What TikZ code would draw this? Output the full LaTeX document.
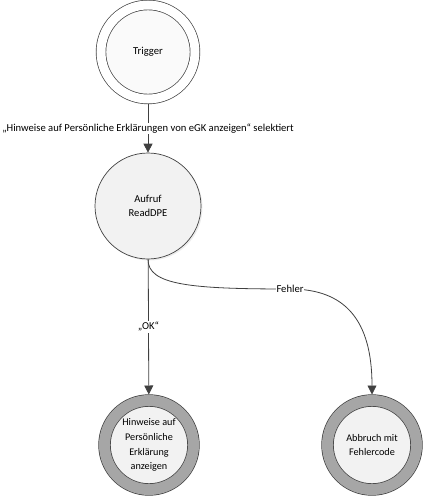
\documentclass[tikz,border=0pt]{standalone}
\usepackage{fontspec}
\setmainfont{Carlito}
\usetikzlibrary{arrows.meta,shadows}

\definecolor{linegray}{HTML}{404040}
\definecolor{statefill}{HTML}{F2F2F2}
\definecolor{ringgray}{HTML}{A6A6A6}

\tikzstyle{state} = [circle, draw=linegray, fill=statefill, line width=0.7pt, minimum size=106pt, inner sep=0pt, align=center, font=\fontsize{10.6}{14}\selectfont]
\tikzstyle{startstate} = [state, fill=white!60!statefill, minimum size=94pt, double=white, double distance=9pt, outer sep=5pt]
\tikzstyle{endstate} = [state, minimum size=89pt, double=ringgray, double distance=11pt, outer sep=6pt, font=\fontsize{10.2}{14.8}\selectfont]
\tikzstyle{lbl} = [fill=white, inner sep=1pt, font=\fontsize{10.6}{12.5}\selectfont]
\tikzstyle{arr} = [draw=linegray, line width=0.8pt, -{Triangle[length=9pt,width=9pt]}]

\begin{document}
\begin{tikzpicture}[x=1pt,y=-1pt]
  \useasboundingbox (0,0) rectangle (425,500);
  \node[startstate] (trigger) at (148,52) {Trigger};
  \node[state, drop shadow={opacity=0.15, shadow xshift=1.5pt, shadow yshift=-1.5pt}] (readdpe) at (148,206) {Aufruf\\ReadDPE};
  \node[endstate] (hinweise) at (149,445) {Hinweise auf\\Persönliche\\Erklärung\\anzeigen};
  \node[endstate] (abbruch) at (372,445) {Abbruch mit\\Fehlercode};
  \coordinate (fehlerpt) at (290,289);

  % transitions
  \draw[arr] (trigger) -- node[lbl] {„Hinweise auf Persönliche Erklärungen von eGK anzeigen“ selektiert} (readdpe);
  \draw[arr] (readdpe) -- node[lbl] {„OK“} (hinweise);
  \draw[arr] (readdpe.south) .. controls (148,285) and (190,289) .. (fehlerpt)
    node[lbl] {Fehler} .. controls (345,289) and (372,320) .. (abbruch.north);
\end{tikzpicture}
\end{document}
